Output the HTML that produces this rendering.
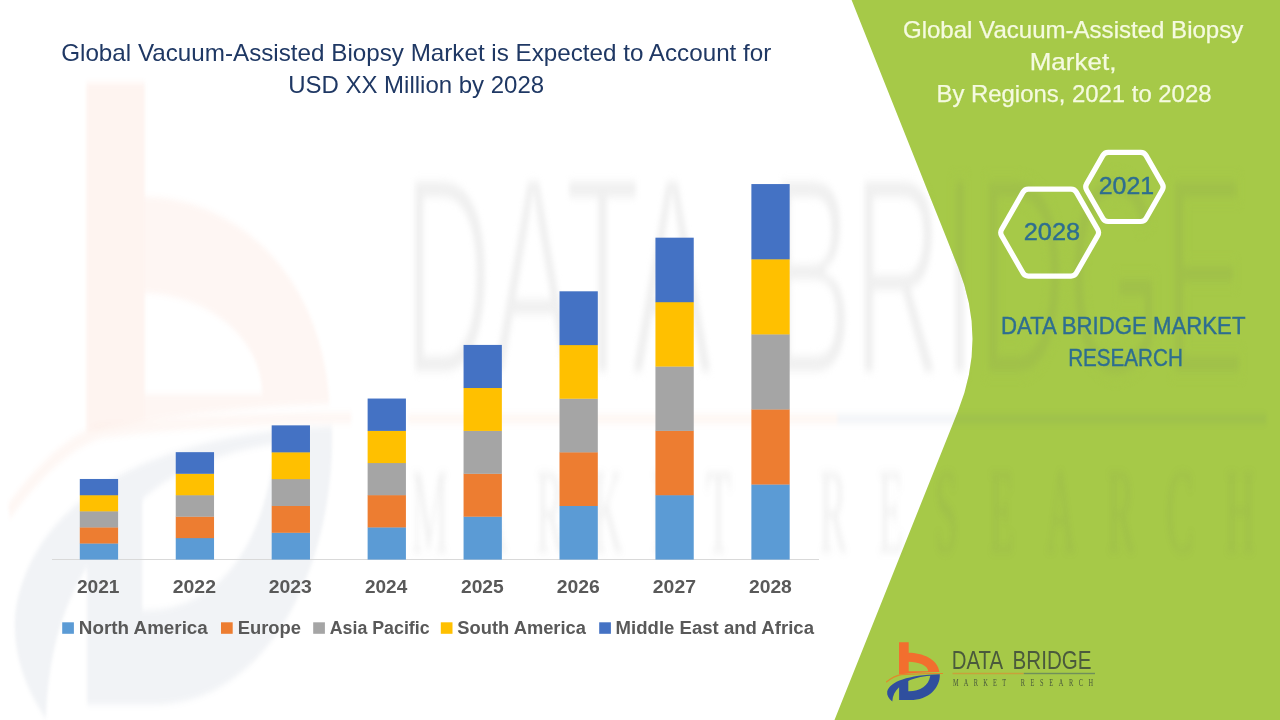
<!DOCTYPE html>
<html lang="en"><head><meta charset="utf-8"><title>Global Vacuum-Assisted Biopsy Market</title>
<style>html,body{margin:0;padding:0;background:#fff;width:1280px;height:720px;overflow:hidden}svg{display:block}</style>
</head><body>
<svg width="1280" height="720" viewBox="0 0 1280 720">
<defs><filter id="wmblur" color-interpolation-filters="sRGB" filterUnits="userSpaceOnUse" x="-20" y="-20" width="1320" height="760"><feGaussianBlur stdDeviation="1.6 3.2"/></filter><filter id="wmblur2" color-interpolation-filters="sRGB" filterUnits="userSpaceOnUse" x="-20" y="-20" width="1320" height="760"><feGaussianBlur stdDeviation="2.6 4"/></filter><clipPath id="gclip"><path d="M851.6,0 L958,267 Q987,339 958,411 L834.5,720 L1280,720 L1280,0 Z"/></clipPath></defs>
<rect width="1280" height="720" fill="#FFFFFF"/>
<g filter="url(#wmblur2)"><g transform="matrix(6.02 0 0 10.74 -5325.6 -6814.4)">
<text x="951.69" y="669.35" font-family='"Liberation Sans", Arial, sans-serif' font-size="26.5" fill="#606060" textLength="51.37" lengthAdjust="spacingAndGlyphs" fill-opacity="0.095" stroke="#FFFFFF" stroke-width="0.6">DATA</text>
<text x="1012.62" y="669.35" font-family='"Liberation Sans", Arial, sans-serif' font-size="26.5" fill="#606060" textLength="78.98" lengthAdjust="spacingAndGlyphs" fill-opacity="0.095" stroke="#FFFFFF" stroke-width="0.6">BRIDGE</text>
<g transform="translate(952.97,685.9) scale(0.62,1)"><text x="0" y="0" font-family='"Liberation Serif", serif' font-size="11.2" fill="#606060" textLength="85.76" lengthAdjust="spacing" fill-opacity="0.095">MARKET</text></g>
<g transform="translate(1020.72,685.9) scale(0.62,1)"><text x="0" y="0" font-family='"Liberation Serif", serif' font-size="11.2" fill="#606060" textLength="116.82" lengthAdjust="spacing" fill-opacity="0.095">RESEARCH</text></g>
</g></g>
<path fill="#A6C948" d="M851.6,0 L958,267 Q987,339 958,411 L834.5,720 L1280,720 L1280,0 Z"/>
<g filter="url(#wmblur)"><g transform="matrix(6.02 0 0 10.74 -5325.6 -6814.4)">
<path fill="#F26230" fill-opacity="0.057" fill-rule="evenodd" d="M899.0,642.2 L908.7,642.2 L908.7,652.8 C922,652.8 938,659 939.4,672.1 C925,672.3 911,673.3 899.0,674.6 Z M908.7,661.8 L908.7,671.2 L928.2,671.2 C928.2,665.6 918,661.8 908.7,661.8 Z"/>
<path fill="#F26230" fill-opacity="0.016" d="M899.0,642.2 L908.7,642.2 L908.7,673.6 L899.0,674.6 Z"/>
<path fill="#F26230" fill-opacity="0.05" d="M886,681.4 C891,677.6 896,675 901,674.1 C915,673.2 930,672.9 943,672.9 L943,673.9 C930,673.9 915,674.3 901.5,675.3 C896.5,676.2 891.5,678.8 886.3,682.8 Z"/>
<path fill="#3A5880" fill-opacity="0.072" fill-rule="evenodd" d="M939.8,674.2 C940.4,687.4 929,700.1 910,700.1 L899.1,700.1 L899.1,687.3 C895,691 892.6,695.6 892.3,701.4 C888.6,698.4 886.6,695 887.2,691.4 C890,681.5 908,674.9 939.8,674.2 Z M930.3,675.8 C921,676.6 913,678.5 908.3,681 L908.3,691.3 C920,691.5 928.6,686 930.3,675.8 Z"/>
<rect x="952.5" y="673.05" width="71.3" height="0.9" fill="#F26F2E" fill-opacity="0.06"/>
<rect x="1023.8" y="673.05" width="71.2" height="0.9" fill="#3A5080" fill-opacity="0.06"/>
</g></g>
<g clip-path="url(#gclip)"><g filter="url(#wmblur2)"><g transform="matrix(6.02 0 0 10.74 -5325.6 -6814.4)">
<text x="951.69" y="669.35" font-family='"Liberation Sans", Arial, sans-serif' font-size="26.5" fill="#606060" textLength="51.37" lengthAdjust="spacingAndGlyphs" fill-opacity="0.075" stroke="#A6C948" stroke-width="0.6">DATA</text>
<text x="1012.62" y="669.35" font-family='"Liberation Sans", Arial, sans-serif' font-size="26.5" fill="#606060" textLength="78.98" lengthAdjust="spacingAndGlyphs" fill-opacity="0.075" stroke="#A6C948" stroke-width="0.6">BRIDGE</text>
<g transform="translate(952.97,685.9) scale(0.62,1)"><text x="0" y="0" font-family='"Liberation Serif", serif' font-size="11.2" fill="#606060" textLength="85.76" lengthAdjust="spacing" fill-opacity="0.075">MARKET</text></g>
<g transform="translate(1020.72,685.9) scale(0.62,1)"><text x="0" y="0" font-family='"Liberation Serif", serif' font-size="11.2" fill="#606060" textLength="116.82" lengthAdjust="spacing" fill-opacity="0.075">RESEARCH</text></g>
</g></g></g>
<text x="61.18" y="60.8" font-family='"Liberation Sans", Arial, sans-serif' font-size="23.6" fill="#1F3864" textLength="710.16" lengthAdjust="spacingAndGlyphs">Global Vacuum-Assisted Biopsy Market is Expected to Account for</text>
<text x="288.17" y="92.6" font-family='"Liberation Sans", Arial, sans-serif' font-size="23.6" fill="#1F3864" textLength="255.94" lengthAdjust="spacingAndGlyphs">USD XX Million by 2028</text>
<rect x="52" y="559" width="767" height="1" fill="#D9D9D9"/>
<rect x="79.80" y="543.31" width="38.3" height="16.29" fill="#5B9BD5"/>
<rect x="79.80" y="527.23" width="38.3" height="16.29" fill="#ED7D31"/>
<rect x="79.80" y="511.14" width="38.3" height="16.29" fill="#A5A5A5"/>
<rect x="79.80" y="495.06" width="38.3" height="16.29" fill="#FFC000"/>
<rect x="79.80" y="478.97" width="38.3" height="16.29" fill="#4472C4"/>
<text x="76.92" y="592.8" font-family='"Liberation Sans", Arial, sans-serif' font-size="17.6" font-weight="bold" fill="#595959" textLength="42.6" lengthAdjust="spacingAndGlyphs">2021</text>
<rect x="175.74" y="537.95" width="38.3" height="21.65" fill="#5B9BD5"/>
<rect x="175.74" y="516.50" width="38.3" height="21.65" fill="#ED7D31"/>
<rect x="175.74" y="495.06" width="38.3" height="21.65" fill="#A5A5A5"/>
<rect x="175.74" y="473.61" width="38.3" height="21.65" fill="#FFC000"/>
<rect x="175.74" y="452.16" width="38.3" height="21.65" fill="#4472C4"/>
<text x="172.74" y="592.8" font-family='"Liberation Sans", Arial, sans-serif' font-size="17.6" font-weight="bold" fill="#595959" textLength="43.25" lengthAdjust="spacingAndGlyphs">2022</text>
<rect x="271.68" y="532.59" width="38.3" height="27.01" fill="#5B9BD5"/>
<rect x="271.68" y="505.78" width="38.3" height="27.01" fill="#ED7D31"/>
<rect x="271.68" y="478.97" width="38.3" height="27.01" fill="#A5A5A5"/>
<rect x="271.68" y="452.16" width="38.3" height="27.01" fill="#FFC000"/>
<rect x="271.68" y="425.35" width="38.3" height="27.01" fill="#4472C4"/>
<text x="268.81" y="592.8" font-family='"Liberation Sans", Arial, sans-serif' font-size="17.6" font-weight="bold" fill="#595959" textLength="43.07" lengthAdjust="spacingAndGlyphs">2023</text>
<rect x="367.62" y="527.23" width="38.3" height="32.37" fill="#5B9BD5"/>
<rect x="367.62" y="495.06" width="38.3" height="32.37" fill="#ED7D31"/>
<rect x="367.62" y="462.88" width="38.3" height="32.37" fill="#A5A5A5"/>
<rect x="367.62" y="430.71" width="38.3" height="32.37" fill="#FFC000"/>
<rect x="367.62" y="398.54" width="38.3" height="32.37" fill="#4472C4"/>
<text x="364.93" y="592.8" font-family='"Liberation Sans", Arial, sans-serif' font-size="17.6" font-weight="bold" fill="#595959" textLength="42.28" lengthAdjust="spacingAndGlyphs">2024</text>
<rect x="463.56" y="516.50" width="38.3" height="43.10" fill="#5B9BD5"/>
<rect x="463.56" y="473.61" width="38.3" height="43.10" fill="#ED7D31"/>
<rect x="463.56" y="430.71" width="38.3" height="43.10" fill="#A5A5A5"/>
<rect x="463.56" y="387.82" width="38.3" height="43.10" fill="#FFC000"/>
<rect x="463.56" y="344.92" width="38.3" height="43.10" fill="#4472C4"/>
<text x="460.96" y="592.8" font-family='"Liberation Sans", Arial, sans-serif' font-size="17.6" font-weight="bold" fill="#595959" textLength="42.8" lengthAdjust="spacingAndGlyphs">2025</text>
<rect x="559.50" y="505.78" width="38.3" height="53.82" fill="#5B9BD5"/>
<rect x="559.50" y="452.16" width="38.3" height="53.82" fill="#ED7D31"/>
<rect x="559.50" y="398.54" width="38.3" height="53.82" fill="#A5A5A5"/>
<rect x="559.50" y="344.92" width="38.3" height="53.82" fill="#FFC000"/>
<rect x="559.50" y="291.30" width="38.3" height="53.82" fill="#4472C4"/>
<text x="556.78" y="592.8" font-family='"Liberation Sans", Arial, sans-serif' font-size="17.6" font-weight="bold" fill="#595959" textLength="43.09" lengthAdjust="spacingAndGlyphs">2026</text>
<rect x="655.44" y="495.06" width="38.3" height="64.54" fill="#5B9BD5"/>
<rect x="655.44" y="430.71" width="38.3" height="64.54" fill="#ED7D31"/>
<rect x="655.44" y="366.37" width="38.3" height="64.54" fill="#A5A5A5"/>
<rect x="655.44" y="302.02" width="38.3" height="64.54" fill="#FFC000"/>
<rect x="655.44" y="237.68" width="38.3" height="64.54" fill="#4472C4"/>
<text x="652.85" y="592.8" font-family='"Liberation Sans", Arial, sans-serif' font-size="17.6" font-weight="bold" fill="#595959" textLength="43.11" lengthAdjust="spacingAndGlyphs">2027</text>
<rect x="751.38" y="484.33" width="38.3" height="75.27" fill="#5B9BD5"/>
<rect x="751.38" y="409.26" width="38.3" height="75.27" fill="#ED7D31"/>
<rect x="751.38" y="334.20" width="38.3" height="75.27" fill="#A5A5A5"/>
<rect x="751.38" y="259.13" width="38.3" height="75.27" fill="#FFC000"/>
<rect x="751.38" y="184.06" width="38.3" height="75.27" fill="#4472C4"/>
<text x="748.93" y="592.8" font-family='"Liberation Sans", Arial, sans-serif' font-size="17.6" font-weight="bold" fill="#595959" textLength="42.93" lengthAdjust="spacingAndGlyphs">2028</text>
<rect x="62.2" y="622.3" width="11.7" height="11.5" fill="#5B9BD5"/>
<text x="78.89" y="633.6" font-family='"Liberation Sans", Arial, sans-serif' font-size="17.6" font-weight="bold" fill="#595959" textLength="128.92" lengthAdjust="spacingAndGlyphs">North America</text>
<rect x="221.0" y="622.3" width="11.7" height="11.5" fill="#ED7D31"/>
<text x="237.68" y="633.6" font-family='"Liberation Sans", Arial, sans-serif' font-size="17.6" font-weight="bold" fill="#595959" textLength="63.29" lengthAdjust="spacingAndGlyphs">Europe</text>
<rect x="313.2" y="622.3" width="11.7" height="11.5" fill="#A5A5A5"/>
<text x="329.77" y="633.6" font-family='"Liberation Sans", Arial, sans-serif' font-size="17.6" font-weight="bold" fill="#595959" textLength="99.83" lengthAdjust="spacingAndGlyphs">Asia Pacific</text>
<rect x="440.8" y="622.3" width="11.7" height="11.5" fill="#FFC000"/>
<text x="457.37" y="633.6" font-family='"Liberation Sans", Arial, sans-serif' font-size="17.6" font-weight="bold" fill="#595959" textLength="128.6" lengthAdjust="spacingAndGlyphs">South America</text>
<rect x="599.2" y="622.3" width="11.7" height="11.5" fill="#4472C4"/>
<text x="615.62" y="633.6" font-family='"Liberation Sans", Arial, sans-serif' font-size="17.6" font-weight="bold" fill="#595959" textLength="198.36" lengthAdjust="spacingAndGlyphs">Middle East and Africa</text>
<text x="902.95" y="38.0" font-family='"Liberation Sans", Arial, sans-serif' font-size="23.6" fill="#F5FAE0" textLength="340.35" lengthAdjust="spacingAndGlyphs" stroke="#F5FAE0" stroke-width="0.25">Global Vacuum-Assisted Biopsy</text>
<text x="1029.71" y="70.4" font-family='"Liberation Sans", Arial, sans-serif' font-size="23.6" fill="#F5FAE0" textLength="86.69" lengthAdjust="spacingAndGlyphs" stroke="#F5FAE0" stroke-width="0.25">Market,</text>
<text x="936.46" y="101.5" font-family='"Liberation Sans", Arial, sans-serif' font-size="23.6" fill="#F5FAE0" textLength="275.03" lengthAdjust="spacingAndGlyphs" stroke="#F5FAE0" stroke-width="0.25">By Regions, 2021 to 2028</text>
<path d="M1001.59,235.59 Q999.85,232.55 1001.59,229.51 L1023.01,192.09 Q1024.75,189.05 1028.25,189.05 L1071.05,189.05 Q1074.55,189.05 1076.29,192.09 L1097.71,229.51 Q1099.45,232.55 1097.71,235.59 L1076.29,273.01 Q1074.55,276.05 1071.05,276.05 L1028.25,276.05 Q1024.75,276.05 1023.01,273.01 Z" fill="none" stroke="#FFFFFF" stroke-width="5.2" stroke-linejoin="round"/>
<path d="M1086.59,189.94 Q1084.85,186.90 1086.59,183.86 L1102.91,155.34 Q1104.65,152.30 1108.15,152.30 L1140.75,152.30 Q1144.25,152.30 1145.99,155.34 L1162.31,183.86 Q1164.05,186.90 1162.31,189.94 L1145.99,218.46 Q1144.25,221.50 1140.75,221.50 L1108.15,221.50 Q1104.65,221.50 1102.91,218.46 Z" fill="none" stroke="#FFFFFF" stroke-width="5.2" stroke-linejoin="round"/>
<text x="1023.76" y="240.4" font-family='"Liberation Sans", Arial, sans-serif' font-size="23.6" fill="#2E6E90" textLength="56.37" lengthAdjust="spacingAndGlyphs" stroke="#2E6E90" stroke-width="0.4">2028</text>
<text x="1098.74" y="194.4" font-family='"Liberation Sans", Arial, sans-serif' font-size="23.6" fill="#2E6E90" textLength="55.37" lengthAdjust="spacingAndGlyphs" stroke="#2E6E90" stroke-width="0.4">2021</text>
<text x="1000.96" y="334.0" font-family='"Liberation Sans", Arial, sans-serif' font-size="23.6" fill="#2E6E90" textLength="244.53" lengthAdjust="spacingAndGlyphs" stroke="#2E6E90" stroke-width="0.4">DATA BRIDGE MARKET</text>
<text x="1068.13" y="365.7" font-family='"Liberation Sans", Arial, sans-serif' font-size="23.6" fill="#2E6E90" textLength="114.73" lengthAdjust="spacingAndGlyphs" stroke="#2E6E90" stroke-width="0.4">RESEARCH</text>
<g>
<path fill="#F26F2E" fill-opacity="1" fill-rule="evenodd" d="M899.0,642.2 L908.7,642.2 L908.7,652.8 C922,652.8 938,659 939.4,672.1 C925,672.3 911,673.3 899.0,674.6 Z M908.7,661.8 L908.7,671.2 L928.2,671.2 C928.2,665.6 918,661.8 908.7,661.8 Z"/>
<path fill="#E08A2C" fill-opacity="1" d="M886,681.4 C891,677.6 896,675 901,674.1 C915,673.2 930,672.9 943,672.9 L943,673.9 C930,673.9 915,674.3 901.5,675.3 C896.5,676.2 891.5,678.8 886.3,682.8 Z"/>
<path fill="#2F4F9E" fill-opacity="1" fill-rule="evenodd" d="M939.8,674.2 C940.4,687.4 929,700.1 910,700.1 L899.1,700.1 L899.1,687.3 C895,691 892.6,695.6 892.3,701.4 C888.6,698.4 886.6,695 887.2,691.4 C890,681.5 908,674.9 939.8,674.2 Z M930.3,675.8 C921,676.6 913,678.5 908.3,681 L908.3,691.3 C920,691.5 928.6,686 930.3,675.8 Z"/>
<rect x="952.5" y="672.80" width="71.3" height="1.4" fill="#C9A13A" fill-opacity="1"/>
<rect x="1023.8" y="672.80" width="71.2" height="1.4" fill="#6F8F5A" fill-opacity="1"/>
<text x="951.69" y="669.3" font-family='"Liberation Sans", Arial, sans-serif' font-size="26" fill="#4A5A3C" textLength="51.37" lengthAdjust="spacingAndGlyphs" fill-opacity="1">DATA</text>
<text x="1012.62" y="669.3" font-family='"Liberation Sans", Arial, sans-serif' font-size="26" fill="#4A5A3C" textLength="78.98" lengthAdjust="spacingAndGlyphs" fill-opacity="1">BRIDGE</text>
<g transform="translate(952.97,686.3) scale(0.62,1)"><text x="0" y="0" font-family='"Liberation Serif", serif' font-size="10.2" fill="#4A5A3C" textLength="85.76" lengthAdjust="spacing" fill-opacity="1">MARKET</text></g>
<g transform="translate(1020.72,686.3) scale(0.62,1)"><text x="0" y="0" font-family='"Liberation Serif", serif' font-size="10.2" fill="#4A5A3C" textLength="116.82" lengthAdjust="spacing" fill-opacity="1">RESEARCH</text></g>
</g>
</svg>
</body></html>
